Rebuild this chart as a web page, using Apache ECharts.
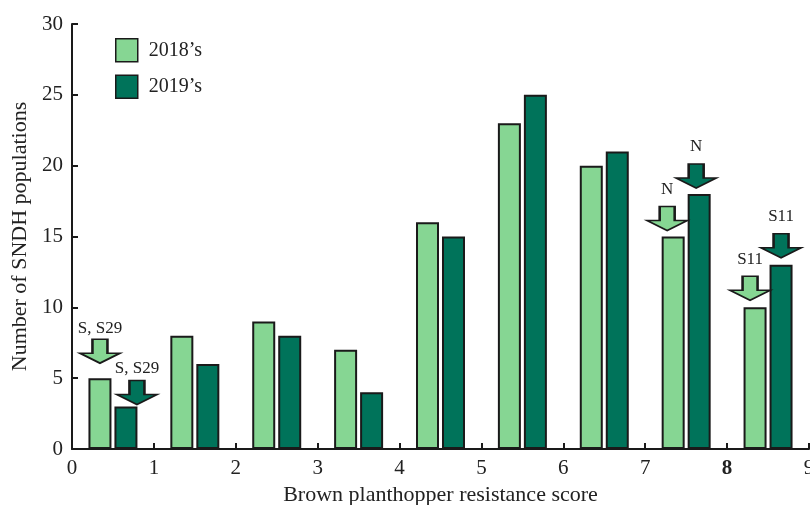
<!DOCTYPE html>
<html>
<head>
<meta charset="utf-8">
<script src="https://cdn.jsdelivr.net/npm/echarts@6/dist/echarts.min.js"></script>
<style>
  html, body { margin: 0; padding: 0; background: #fff; }
  #chart { width: 810px; height: 505px; }
</style>
</head>
<body>
<div id="chart"></div>
<script>
// Resistance score bins (0-1, 1-2, ..., 8-9) and counts of populations per year
const scoreBins = [0, 1, 2, 3, 4, 5, 6, 7, 8];
const counts2018 = [5, 8, 9, 7, 16, 23, 20, 15, 10];
const counts2019 = [3, 6, 8, 4, 15, 25, 21, 18, 13];
const xTickLabels = ['0', '1', '2', '3', '4', '5', '6', '7', '8', '9'];
const yTickLabels = ['0', '5', '10', '15', '20', '25', '30'];

// Parent lines marked with arrows: [bin index, label]
const marks2018 = [[0, 'S, S29'], [7, 'N'], [8, 'S11']];
const marks2019 = [[0, 'S, S29'], [7, 'N'], [8, 'S11']];

const LIGHT = '#86d693';
const DARK = '#00735a';
const EDGE = '#1a1a1a';
const FONT = '"Liberation Serif", "DejaVu Serif", serif';
const TEXT = '#222';

// Arrow glyph pointing down (40 x 24 box)
const ARROW = 'path://M12.5 0 L27.5 0 L27.5 14 L40 14 L20 24 L0 14 L12.5 14 Z';

// Arrow placement per bin, relative to its bar: [horizontal shift px, gap above bar px, label distance px]
const arrowPlace2018 = { 0: [0, 15, 1], 7: [-6, 6, 8], 8: [-5, 7, 8] };
const arrowPlace2019 = { 0: [11, 2, 3], 7: [-3, 6, 8], 8: [0, 7, 8] };

function buildMarks(marks, values, place, color) {
  return marks.map(function (m) {
    const bin = m[0];
    const p = place[bin];
    return {
      coord: [bin + 0.5, values[bin]],
      value: m[1],
      symbol: ARROW,
      symbolSize: [40, 24],
      symbolOffset: [p[0], -(p[1] + 12)],
      itemStyle: { color: color, borderColor: EDGE, borderWidth: 2 },
      label: {
        show: true,
        position: 'top',
        distance: p[2],
        formatter: m[1],
        color: TEXT,
        fontFamily: FONT,
        fontSize: 17
      }
    };
  });
}

const chart = echarts.init(document.getElementById('chart'), null, { renderer: 'canvas' });

chart.setOption({
  animation: false,
  backgroundColor: '#fff',
  grid: { left: 72, right: 1, top: 24, bottom: 56, containLabel: false, outerBoundsMode: 'none' },
  legend: {
    orient: 'vertical',
    left: 115,
    top: 38,
    padding: 0,
    itemWidth: 22,
    itemHeight: 23,
    itemGap: 12,
    icon: 'rect',
    itemStyle: { borderColor: EDGE, borderWidth: 1.5 },
    textStyle: { fontFamily: FONT, fontSize: 20, color: TEXT, padding: [0, 0, 0, 6] },
    data: ['2018\u2019s', '2019\u2019s']
  },
  xAxis: {
    type: 'value',
    min: 0,
    max: 9,
    interval: 1,
    name: 'Brown planthopper resistance score',
    nameLocation: 'middle',
    nameGap: 30,
    nameTextStyle: { fontFamily: FONT, fontSize: 22, color: TEXT },
    axisLine: { show: true, lineStyle: { color: EDGE, width: 2 } },
    axisTick: { show: true, inside: true, length: 6, lineStyle: { color: EDGE, width: 2 } },
    splitLine: { show: false },
    axisLabel: {
      margin: 9,
      fontFamily: FONT,
      fontSize: 21,
      color: TEXT,
      formatter: function (v) {
        const t = xTickLabels[Math.round(v)];
        return t === '8' ? '{b|' + t + '}' : t;
      },
      rich: { b: { fontFamily: FONT, fontSize: 21, fontWeight: 'bold', color: TEXT } }
    }
  },
  yAxis: {
    type: 'value',
    min: 0,
    max: 30,
    interval: 5,
    name: 'Number of SNDH populations',
    nameLocation: 'middle',
    nameGap: 38,
    nameTextStyle: { fontFamily: FONT, fontSize: 22, color: TEXT },
    axisLine: { show: true, lineStyle: { color: EDGE, width: 2 } },
    axisTick: { show: true, inside: true, length: 6, lineStyle: { color: EDGE, width: 2 } },
    splitLine: { show: false },
    axisLabel: {
      margin: 9,
      fontFamily: FONT,
      fontSize: 21,
      color: TEXT,
      formatter: function (v) { return yTickLabels[Math.round(v / 5)]; }
    }
  },
  series: [
    {
      name: '2018\u2019s',
      type: 'bar',
      barWidth: 23,
      barGap: '13%',
      data: scoreBins.map(function (b, i) { return [b + 0.5, counts2018[i]]; }),
      itemStyle: { color: LIGHT, borderColor: EDGE, borderWidth: 2 },
      markPoint: { data: buildMarks(marks2018, counts2018, arrowPlace2018, LIGHT) }
    },
    {
      name: '2019\u2019s',
      type: 'bar',
      barWidth: 23,
      barGap: '13%',
      data: scoreBins.map(function (b, i) { return [b + 0.5, counts2019[i]]; }),
      itemStyle: { color: DARK, borderColor: EDGE, borderWidth: 2 },
      markPoint: { data: buildMarks(marks2019, counts2019, arrowPlace2019, DARK) }
    }
  ]
});
</script>
</body>
</html>
